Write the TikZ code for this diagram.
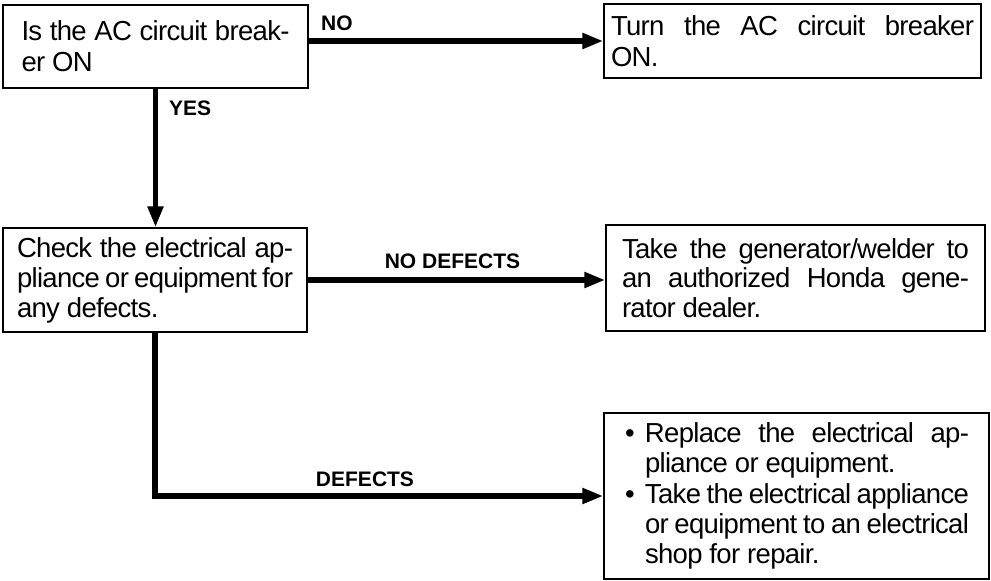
\documentclass[tikz,border=0pt]{standalone}
\usepackage{fontspec}
\setmainfont{Liberation Sans}[LetterSpace=-2.5]
\newfontfamily\lblfont{Liberation Sans}
\usetikzlibrary{arrows.meta}
\newcommand\jl[2]{\makebox[#1][s]{#2}}
\newcommand\ind{\makebox[21pt][l]{}}
\newcommand\bul{\makebox[21pt][l]{\hspace{1pt}•}}
\begin{document}
\begin{tikzpicture}[x=1pt,y=-1pt,
  box/.style={draw,line width=1.4pt,align=left,inner sep=0pt,
    font=\fontsize{27.5}{31}\selectfont},
  arr/.style={line width=5.5pt,-{Triangle[length=21pt,width=15pt]}},
  lbl/.style={font=\lblfont\bfseries\fontsize{21}{24}\selectfont,inner sep=0pt}]
\useasboundingbox (0,0) rectangle (991,581);
\node[box,minimum width=305pt,minimum height=83pt] (b1) at (155.5,46.5)
  {\jl{268pt}{Is the AC circuit break-}\\er ON};
\node[box,minimum width=377pt,minimum height=74pt] (b2) at (792.5,41)
  {\jl{363pt}{Turn the AC circuit breaker}\\ON.};
\node[box,minimum width=304pt,minimum height=104pt,font=\fontsize{27.5}{30}\selectfont] (b3) at (155,280)
  {\jl{276pt}{Check the electrical ap-}\\\jl{276pt}{pliance or equipment for}\\any defects.};
\node[box,minimum width=379pt,minimum height=106pt,font=\fontsize{27.5}{29.5}\selectfont] (b4) at (795.5,278)
  {\jl{347pt}{Take the generator/welder to}\\\jl{347pt}{an authorized Honda gene-}\\rator dealer.};
\node[box,minimum width=385pt,minimum height=166pt,font=\fontsize{27.5}{30.3}\selectfont] (b5) at (796.5,496)
  {\bul\jl{324pt}{Replace the electrical ap-}\\
   \ind pliance or equipment.\\
   \bul\jl{324pt}{Take the electrical appliance}\\
   \ind\jl{324pt}{or equipment to an electrical}\\
   \ind shop for repair.};
\draw[arr] (b1.east |- b2.west) -- (b2.west);
\draw[arr] (b1.south) -- (b1.south |- b3.north);
\draw[arr] (b3.east) -- (b3.east -| b4.west);
\draw[arr] (b3.south) |- (b5.west);
\node[lbl,anchor=west] (lno) at (321,23.5) {NO};
\node[lbl,anchor=west] (lyes) at (169,108.5) {YES};
\node[lbl] (lnod) at (452.5,261.5) {NO DEFECTS};
\node[lbl] (ldef) at (365,479.5) {DEFECTS};
\end{tikzpicture}
\end{document}
